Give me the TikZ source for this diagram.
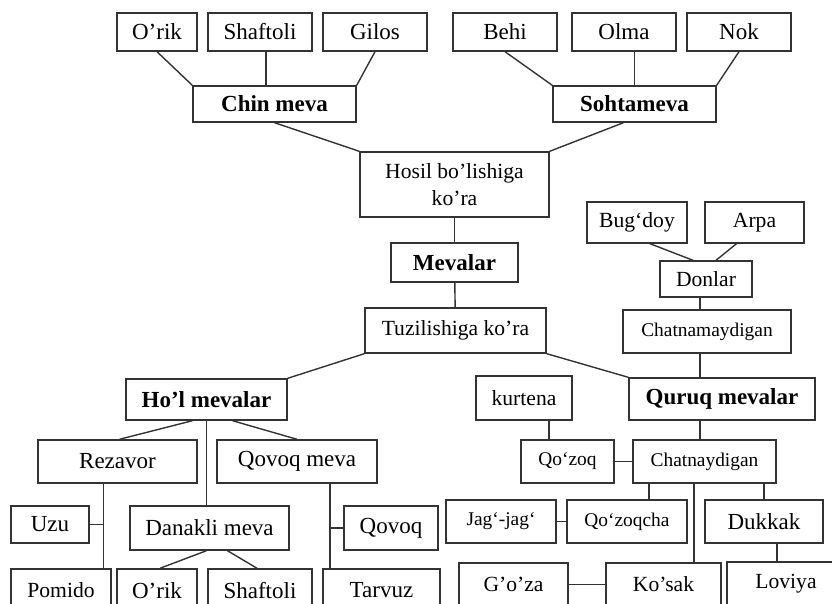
\documentclass[tikz,border=0pt]{standalone}
\usepackage{fontspec}
\setmainfont{Liberation Serif}
\usetikzlibrary{positioning}

\begin{document}
\begin{tikzpicture}[
  x=0.5pt, y=-0.5pt,
  fruitbox/.style={rectangle, draw=black!80, line width=0.7pt, inner sep=0pt,
    minimum height=21.5pt, align=center, font=\fontsize{11.5}{13.5}\selectfont},
  headbox/.style={fruitbox, font=\fontsize{11.5}{13.5}\selectfont\bfseries},
  midbox/.style={fruitbox, font=\fontsize{10.8}{13.5}\selectfont},
  smallbox/.style={fruitbox, font=\fontsize{9.7}{12}\selectfont},
  link/.style={draw=black!80, line width=0.7pt}
]
  \clip (0,0) rectangle (832,604);
  \node[fruitbox, minimum width=40pt, minimum height=19pt] (orikA)     at (157,32)  {O’rik};
  \node[fruitbox, minimum width=52pt, minimum height=19pt] (shaftoliA) at (260,32)  {Shaftoli};
  \node[fruitbox, minimum width=52pt, minimum height=19pt] (gilos)     at (375,32)  {Gilos};
  \node[fruitbox, minimum width=52pt, minimum height=19pt] (behi)      at (505,32)  {Behi};
  \node[fruitbox, minimum width=52pt, minimum height=19pt] (olma)      at (624,32)  {Olma};
  \node[fruitbox, minimum width=52pt, minimum height=19pt] (nok)       at (739,32)  {Nok};
  \node[headbox, minimum width=81.5pt, minimum height=18pt] (chin)     at (274.5,104) {Chin meva};
  \node[headbox, minimum width=81.5pt, minimum height=18pt] (soht)     at (634.5,104) {Sohtameva};
  \node[midbox, minimum width=94.5pt, minimum height=32.5pt] (hosil)   at (454.5,184.5) {Hosil bo’lishiga\\ko’ra};
  \node[headbox, minimum width=63.5pt, minimum height=19.5pt] (mevalar) at (454.5,262.5) {Mevalar};
  \node[midbox, minimum width=90.5pt, minimum height=22.5pt] (tuz)     at (455.5,330.5) {Tuzilishiga ko’ra};
  \node[midbox, minimum width=50pt, minimum height=20.5pt] (bugdoy)    at (637,222.5) {Bug‘doy};
  \node[midbox, minimum width=49.5pt, minimum height=20.5pt] (arpa)    at (754.5,222.5) {Arpa};
  \node[midbox, minimum width=46pt, minimum height=18pt] (donlar)      at (706,279)  {Donlar};
  \node[smallbox, minimum width=84pt] (chatnam)                        at (707,331.5) {Chatnamaydigan};
  \node[headbox, minimum width=80.5pt, minimum height=20.5pt] (hol)    at (206.5,399.5) {Ho’l mevalar};
  \node[headbox, minimum width=93pt, minimum height=21pt] (quruq)      at (722,399)  {Quruq mevalar};
  \node[midbox, minimum width=48pt, minimum height=22pt] (kurtena)     at (524,398)  {kurtena};
  \node[fruitbox, minimum width=79.5pt] (rezavor)                      at (117.5,461.5) {Rezavor};
  \node[fruitbox, minimum width=80pt] (qovoqmeva)                      at (297,461.5) {Qovoq meva};
  \node[smallbox, minimum width=46.5pt] (qozoq)                        at (567.5,461.5) {Qo‘zoq};
  \node[smallbox, minimum width=71.5pt] (chatnay)                      at (704.5,461.5) {Chatnaydigan};
  \node[fruitbox, minimum width=39pt, minimum height=18.5pt] (uzu)     at (50,524.5) {Uzu};
  \node[fruitbox, minimum width=79.5pt, minimum height=22pt] (danakli) at (209.5,528) {Danakli meva};
  \node[fruitbox, minimum width=47pt, minimum height=22pt] (qovoq)     at (391,528)  {Qovoq};
  \node[smallbox, minimum width=55pt] (jag)                            at (501,521.5) {Jag‘-jag‘};
  \node[smallbox, minimum width=60pt] (qozoqcha)                       at (627,521.5) {Qo‘zoqcha};
  \node[fruitbox, minimum width=59pt] (dukkak)                         at (764,521.5) {Dukkak};
  \node[midbox, minimum width=50pt] (pomido)                           at (61,590.5) {Pomido};
  \node[fruitbox, minimum width=40pt] (orikB)                          at (157,590.5) {O’rik};
  \node[fruitbox, minimum width=52pt] (shaftoliB)                      at (260,590.5) {Shaftoli};
  \node[fruitbox, minimum width=58.5pt] (tarvuz)                       at (381.5,590.5) {Tarvuz};
  \node[midbox, minimum width=54.5pt] (goza)                           at (513.5,584.5) {G’o’za};
  \node[midbox, minimum width=57.5pt] (kosak)                          at (663.5,584.5) {Ko’sak};
  \node[midbox, minimum width=59pt] (loviya)                           at (786,583.5) {Loviya};
  \coordinate (sh) at ([xshift=3pt]shaftoliA.south);
  \coordinate (dn) at ([xshift=-3pt]donlar.south);
  \coordinate (cn) at ([xshift=-3.5pt]chatnam.south);
  \coordinate (rz) at ([xshift=-7pt]rezavor.south);
  \coordinate (qm) at ([xshift=16.5pt]qovoqmeva.south);
  \coordinate (kt) at ([xshift=12.5pt]kurtena.south);
  \coordinate (qr) at ([xshift=-11pt]quruq.south);
  \coordinate (ca) at ([xshift=-27.75pt]chatnay.south);
  \coordinate (cb) at ([xshift=-5.25pt]chatnay.south);
  \coordinate (cc) at ([xshift=29.75pt]chatnay.south);
  \coordinate (dk) at ([xshift=6.5pt]dukkak.south);
  \draw[link] (orikA.south) -- (chin.north west);
  \draw[link] (sh) -- (sh |- chin.north);
  \draw[link] (gilos.south) -- (chin.north east);
  \draw[link] (behi.south) -- (soht.north west);
  \draw[link] (soht.north) -- (soht.north |- olma.south);
  \draw[link] (nok.south) -- (soht.north east);
  \draw[link] (chin.south) -- (hosil.north west);
  \draw[link] ([xshift=-5.5pt]soht.south) -- (hosil.north east);
  \draw[link] (hosil) -- (mevalar);
  \draw[link] (mevalar) -- (tuz);
  \draw[link] (tuz.south west) -- (hol.north east);
  \draw[link] (tuz.south east) -- (quruq.north west);
  \draw[link] ([xshift=6.5pt]bugdoy.south) -- ([xshift=-6.5pt]donlar.north);
  \draw[link] ([xshift=-9pt]arpa.south) -- ([xshift=5pt]donlar.north);
  \draw[link] (dn) -- (dn |- chatnam.north);
  \draw[link] (cn) -- (cn |- quruq.north);
  \draw[link] ([xshift=-7pt]hol.south) -- ([xshift=1pt]rezavor.north);
  \draw[link] (hol.south) -- (hol.south |- danakli.north);
  \draw[link] ([xshift=13pt]hol.south) -- (qovoqmeva.north);
  \draw[link] (rz) -- (rz |- pomido.north);
  \draw[link] (uzu.east) -- (uzu.east -| rz);
  \draw[link] ([xshift=-1.5pt]danakli.south) -- ([xshift=1.5pt]orikB.north);
  \draw[link] ([xshift=9pt]danakli.south) -- ([xshift=-1.5pt]shaftoliB.north);
  \draw[link] (qm) -- (qm |- tarvuz.north);
  \draw[link] (qovoq.west) -- (qovoq.west -| qm);
  \draw[link] (kt) -- (kt |- qozoq.north);
  \draw[link] (qr) -- (qr |- chatnay.north);
  \draw[link] (qozoq.east) -- (chatnay.west);
  \draw[link] (ca) -- (ca |- qozoqcha.north);
  \draw[link] (cb) -- (cb |- kosak.north);
  \draw[link] (cc) -- (cc |- dukkak.north);
  \draw[link] (jag.east) -- (qozoqcha.west);
  \draw[link] (dk) -- (dk |- loviya.north);
  \draw[link] (goza.east) -- (kosak.west);
\end{tikzpicture}
\end{document}
